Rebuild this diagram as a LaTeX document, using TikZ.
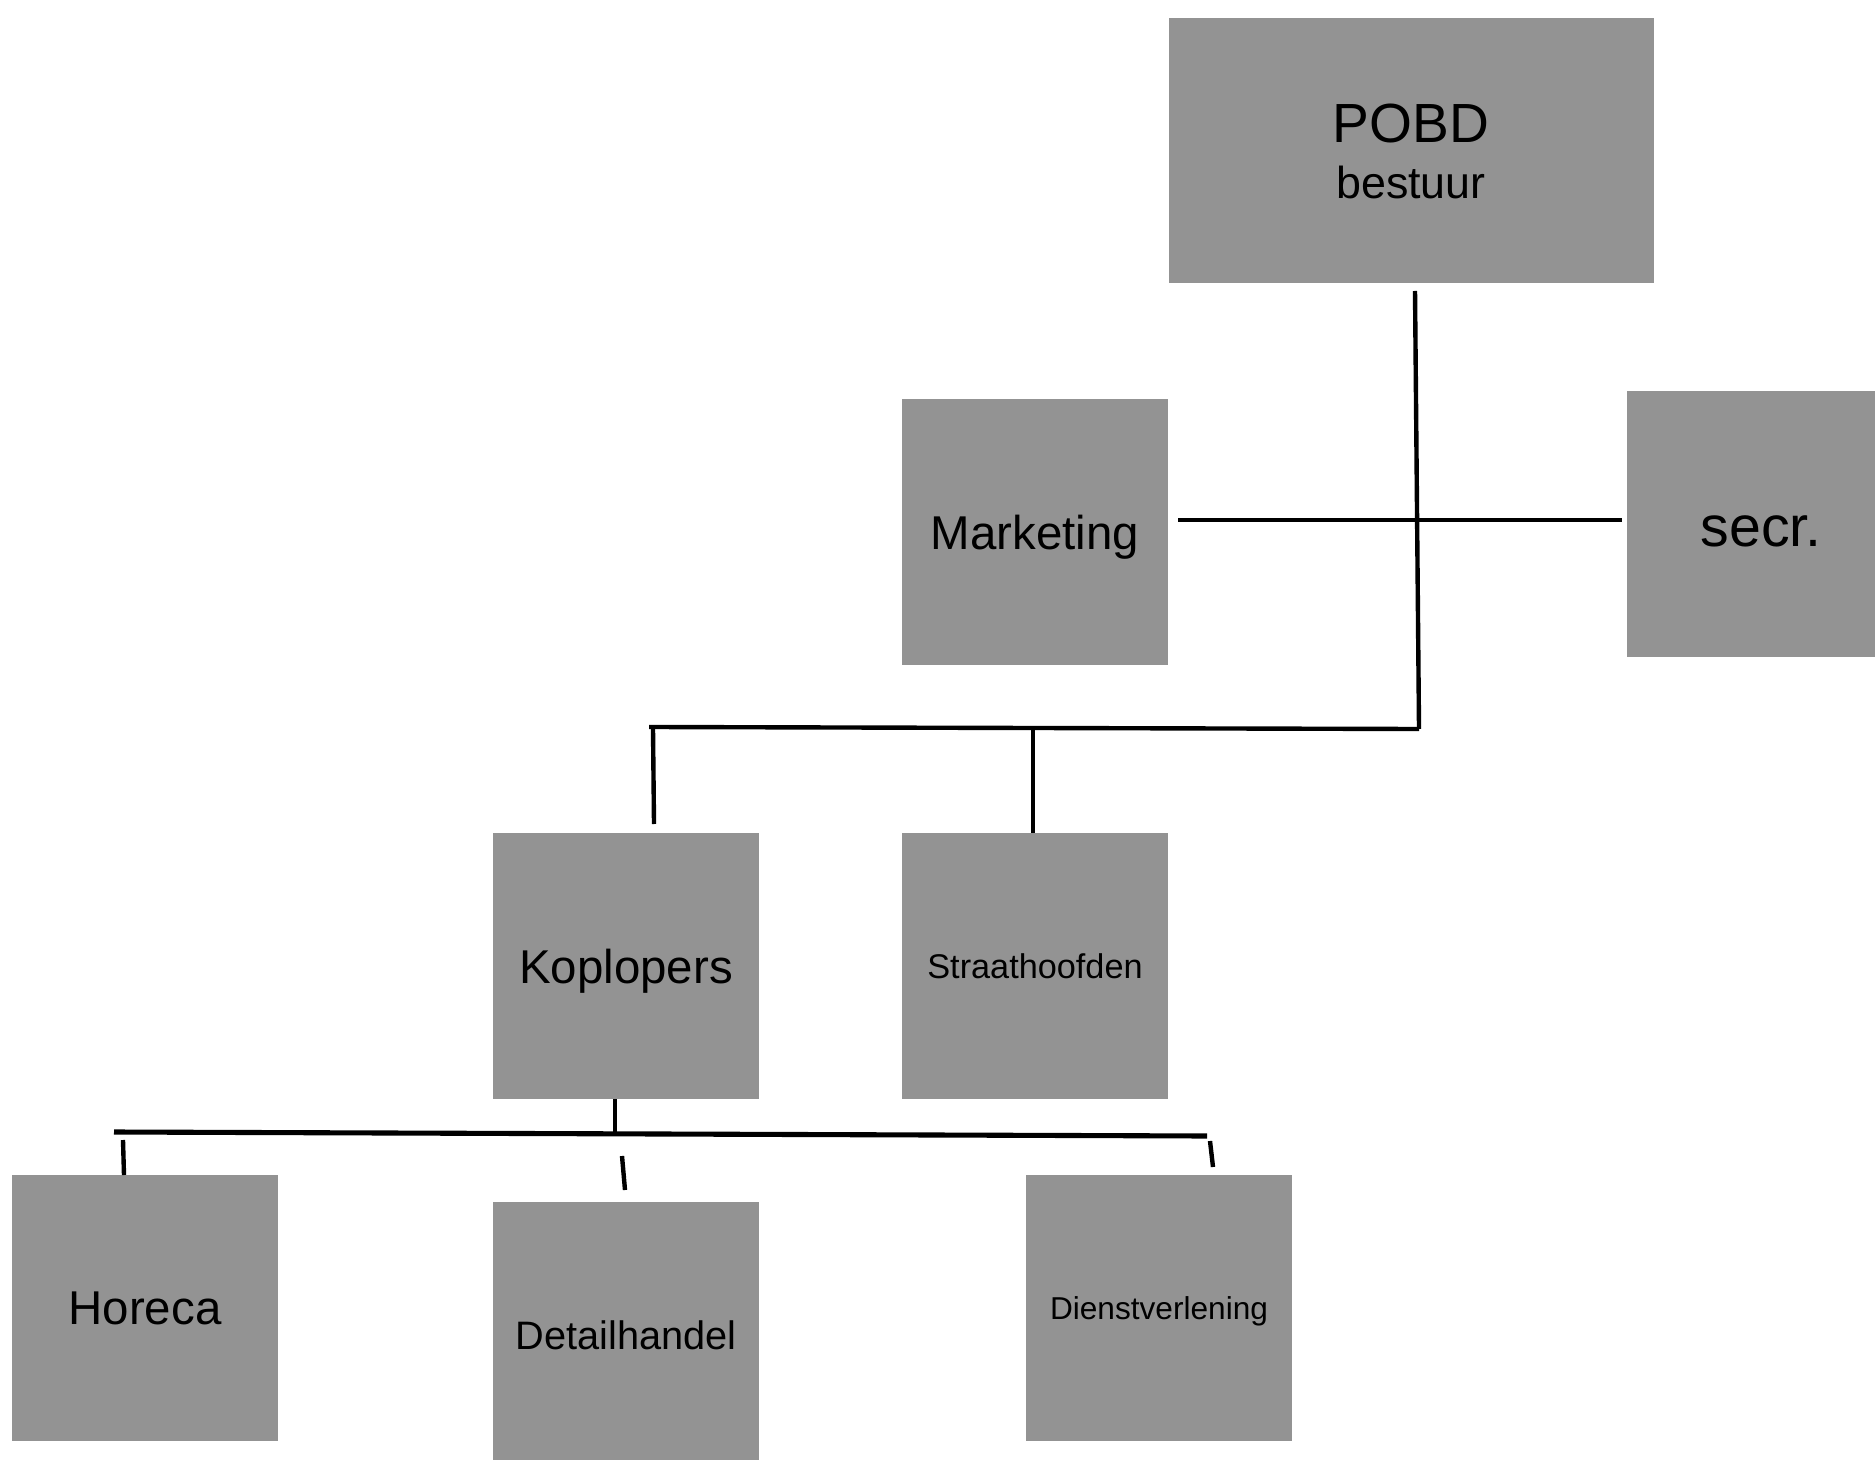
\documentclass[tikz,border=0pt]{standalone}
\usepackage{fontspec}
\setmainfont{Liberation Sans}
\definecolor{boxgray}{RGB}{147,147,147}

\begin{document}
\begin{tikzpicture}[
    x = 0.1mm,
    y = -0.1mm,
    unit/.style = {rectangle, fill=boxgray, minimum width=26.6mm,
    minimum height=26.6mm, inner sep=0pt, outer sep=0pt, align=center,
    text depth=0pt},
    link/.style = {line width=1.25pt},
    bar/.style = {line width=1.45pt},
]

\clip (0,0) rectangle (1875,1460);

\node[unit, minimum width=48.5mm, minimum height=26.5mm,
    font=\fontsize{15.7}{15.9}\selectfont] (pobd) at (1411,151)
    {POBD\\{\fontsize{12.75}{15.9}\selectfont bestuur}};
\node[unit, font=\fontsize{13.5}{16}\selectfont] (marketing) at (1035,532){Marketing};
\node[unit, minimum width=26.8mm, text height=12.6pt,
    font=\fontsize{16.3}{19}\selectfont] (secr) at (1761,524){secr.};
\node[unit, font=\fontsize{13.5}{16}\selectfont] (koplopers) at (626,966){Koplopers};
\node[unit, font=\fontsize{9.75}{12}\selectfont] (straat) at (1035,966){Straathoofden};
\node[unit, font=\fontsize{13.5}{16}\selectfont] (horeca) at (145,1308){Horeca};
\node[unit, font=\fontsize{11.3}{14}\selectfont] (detail) at (626,1335){Detailhandel};
\node[unit, font=\fontsize{9}{11}\selectfont] (dienst) at (1159,1308){Dienstverlening};

\coordinate (stem_top) at (1415,291);
\coordinate (stem_bot) at (1419,729);
\coordinate (cross_l) at (1178,520);
\coordinate (cross_r) at (1622,520);
\coordinate (mid_l) at (649,727);
\coordinate (kop_in) at (653,729);
\coordinate (kop_out) at (654,824);
\coordinate (straat_in) at (1033,729);
\coordinate (kop_down) at (615,1134);
\coordinate (low_l) at (114,1132);
\coordinate (low_r) at (1207,1136);
\coordinate (hor_top) at (123,1140);
\coordinate (hor_bot) at (124,1175);
\coordinate (det_top) at (622,1156);
\coordinate (det_bot) at (625,1190);
\coordinate (die_top) at (1210,1141);
\coordinate (die_bot) at (1213,1167);

\draw [link] (stem_top) -- (stem_bot);
\draw [link] (cross_l) -- (cross_r);
\draw [link] (mid_l) -- (stem_bot);
\draw [link] (kop_in) -- (kop_out);
\draw [link] (straat_in) -- (straat_in |- straat.north);
\draw [link] (kop_down |- koplopers.south) -- (kop_down);
\draw [bar] (low_l) -- (low_r);
\draw [link] (hor_top) -- (hor_bot);
\draw [link] (det_top) -- (det_bot);
\draw [link] (die_top) -- (die_bot);
\end{tikzpicture}
\end{document}
